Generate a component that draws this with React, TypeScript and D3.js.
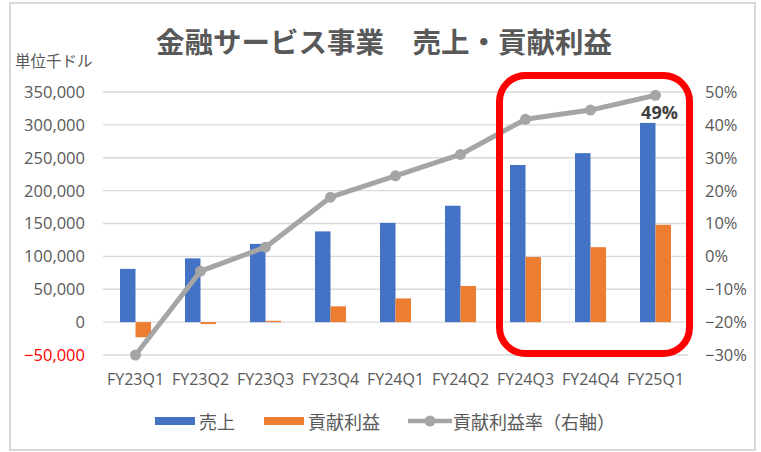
import * as d3 from 'd3';
import React from 'react';

const categories = ['FY23Q1', 'FY23Q2', 'FY23Q3', 'FY23Q4', 'FY24Q1', 'FY24Q2', 'FY24Q3', 'FY24Q4', 'FY25Q1'];
const sales = [81000, 97000, 119000, 138000, 151000, 177000, 239000, 257000, 303000];
const contribution = [-23000, -3000, 2000, 24000, 36000, 55000, 99000, 114000, 148000];
const marginRate = [-0.3, -0.045, 0.028, 0.18, 0.245, 0.31, 0.417, 0.445, 0.49];
const leftTicks = [-50000, 0, 50000, 100000, 150000, 200000, 250000, 300000, 350000];
const rightTicks = [-0.3, -0.2, -0.1, 0, 0.1, 0.2, 0.3, 0.4, 0.5];
const highlightFrom = 'FY24Q3';
const highlightTo = 'FY25Q1';

const W = 761;
const H = 452;
const JP = '"Noto Sans CJK JP", "Noto Sans", sans-serif';
const NUM = '"Open Sans", "Noto Sans", sans-serif';

const App = () => {
  const x = d3.scaleBand<string>().domain(categories).range([103, 688]);
  const yL = d3.scaleLinear().domain([-50000, 350000]).range([355, 92]);
  const yR = d3.scaleLinear().domain([-0.3, 0.5]).range([355, 92]);
  const barW = 15.5;
  const fmt = d3.format(',');
  const cx = (i: number) => (x(categories[i]) as number) + x.bandwidth() / 2;
  const line = d3
    .line<number>()
    .x((_, i) => cx(i))
    .y((d) => yR(d));

  // red box around the last three quarters
  const hx0 = (x(highlightFrom) as number) + 6.5;
  const hx1 = (x(highlightTo) as number) + x.bandwidth() + 1.5;
  const last = marginRate.length - 1;

  return (
    <svg width={W} height={H} style={{ position: 'absolute', left: 0, top: 0 }}>
      <rect x={0} y={0} width={W} height={H} fill="#fff" />
      <rect x={10} y={3} width={745} height={447} fill="#fff" stroke="#d9d9d9" strokeWidth={2} />
      <text x={384} y={53} textAnchor="middle" fontFamily={JP} fontSize={28.5} fontWeight="bold" fill="#595959">
        金融サービス事業　売上・貢献利益
      </text>
      <text x={15} y={67} fontFamily={JP} fontSize={15.5} fill="#595959">
        単位千ドル
      </text>

      {leftTicks.map((t) => (
        <g key={t}>
          <line x1={103} x2={688} y1={yL(t)} y2={yL(t)} stroke="#d9d9d9" strokeWidth={1.3} />
          <text x={85} y={yL(t)} dy="0.36em" textAnchor="end" fontFamily={NUM} fontSize={16.5} fill={t < 0 ? '#ff0000' : '#595959'}>
            {fmt(t)}
          </text>
        </g>
      ))}
      {rightTicks.map((t) => (
        <text key={t} x={705} y={yR(t)} dy="0.36em" fontFamily={NUM} fontSize={16.5} fill="#595959">
          {d3.format('.0%')(t)}
        </text>
      ))}
      {categories.map((c, i) => (
        <text key={c} x={cx(i)} y={385} textAnchor="middle" fontFamily={NUM} fontSize={16} fill="#595959">
          {c}
        </text>
      ))}

      {categories.map((c, i) => (
        <g key={c}>
          <rect x={cx(i) - barW} y={Math.min(yL(sales[i]), yL(0))} width={barW} height={Math.abs(yL(sales[i]) - yL(0))} fill="#4472c4" />
          <rect
            x={cx(i)}
            y={Math.min(yL(contribution[i]), yL(0))}
            width={barW}
            height={Math.abs(yL(contribution[i]) - yL(0))}
            fill="#ed7d31"
          />
        </g>
      ))}

      <path d={line(marginRate) as string} fill="none" stroke="#a5a5a5" strokeWidth={5} strokeLinejoin="round" />
      {marginRate.map((v, i) => (
        <circle key={i} cx={cx(i)} cy={yR(v)} r={5.5} fill="#a5a5a5" />
      ))}
      <text x={cx(last) + 4} y={yR(marginRate[last]) + 24} textAnchor="middle" fontFamily={NUM} fontSize={18} fontWeight="bold" fill="#404040">
        {d3.format('.0%')(marginRate[last])}
      </text>

      <rect x={hx0} y={75.5} width={hx1 - hx0} height={278} rx={26} fill="none" stroke="#ff0000" strokeWidth={7} />

      <g fontFamily={JP} fontSize={18} fill="#595959">
        <rect x={155} y={417} width={40} height={8} fill="#4472c4" />
        <text x={199} y={429}>売上</text>
        <rect x={264} y={417} width={40} height={8} fill="#ed7d31" />
        <text x={308} y={429}>貢献利益</text>
        <line x1={408} x2={452} y1={421} y2={421} stroke="#a5a5a5" strokeWidth={4.5} />
        <circle cx={430} cy={421} r={5.5} fill="#a5a5a5" />
        <text x={453} y={429}>貢献利益率（右軸）</text>
      </g>
    </svg>
  );
};

export default App;
